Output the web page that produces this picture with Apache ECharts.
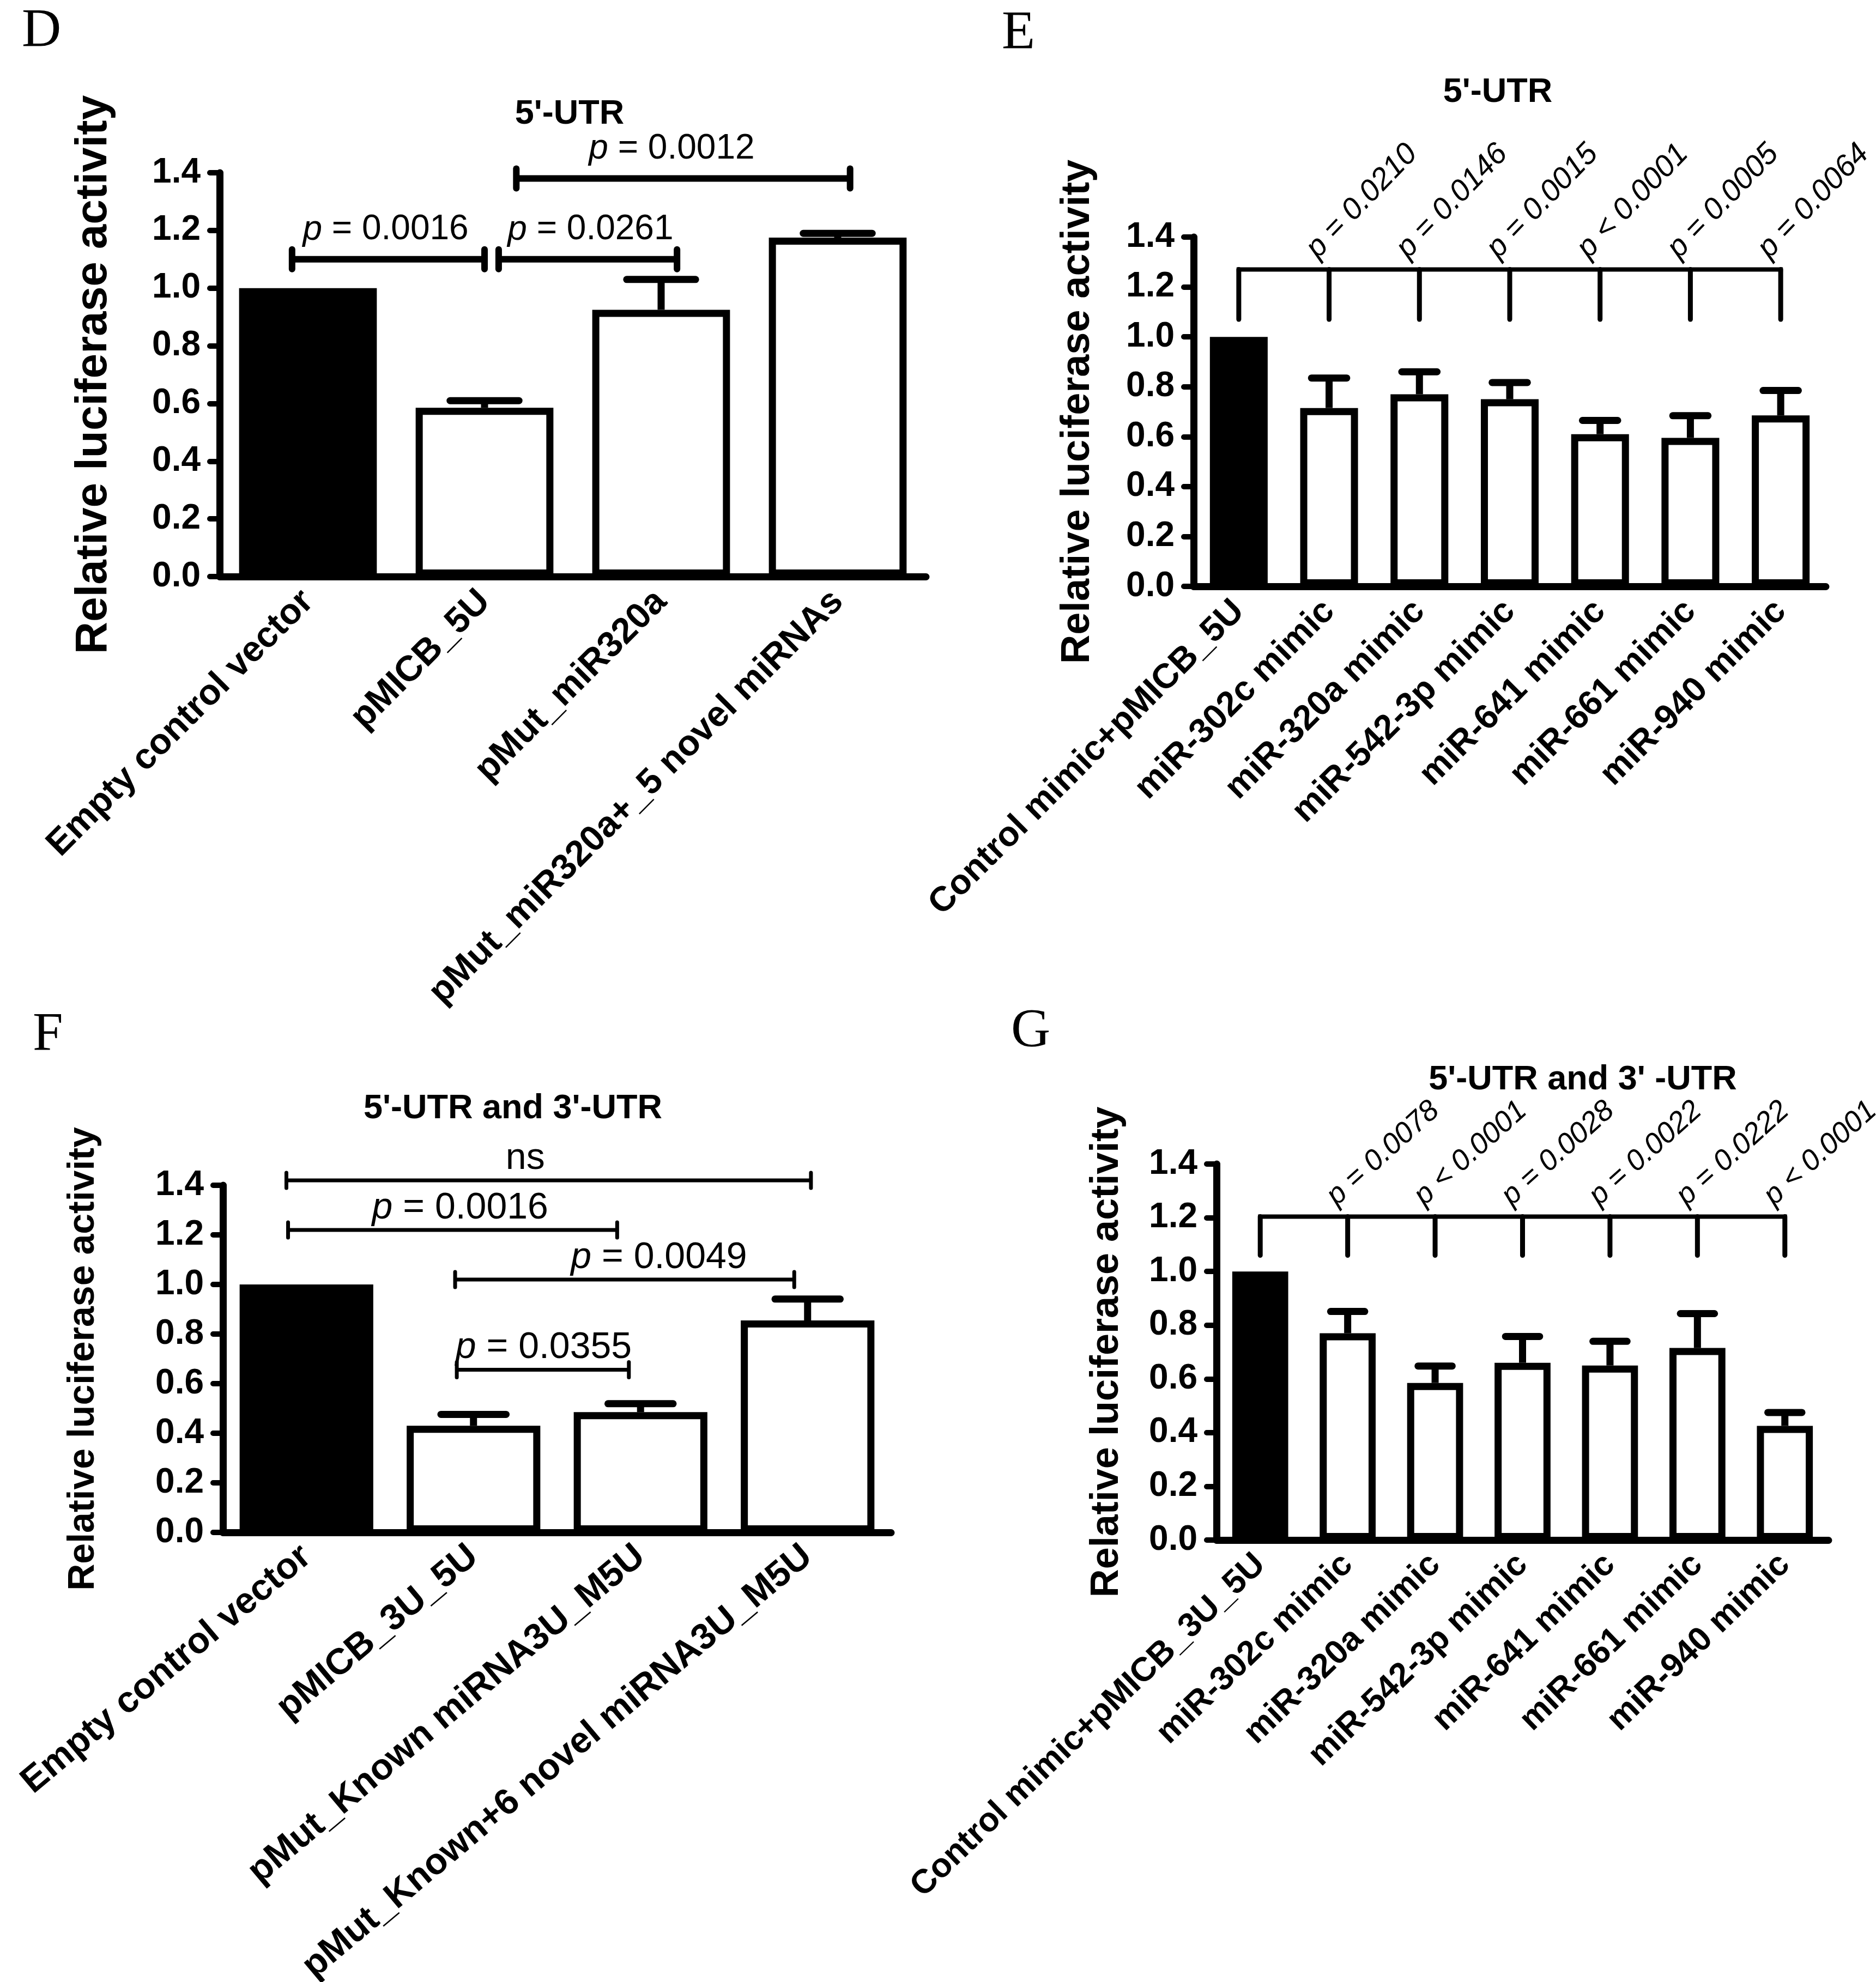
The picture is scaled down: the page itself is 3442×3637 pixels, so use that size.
<!DOCTYPE html>
<html><head><meta charset="utf-8">
<script src="https://cdn.jsdelivr.net/npm/echarts@6/dist/echarts.min.js"></script>
<style>html,body{margin:0;padding:0;background:#fff}#c{width:3442px;height:3637px}</style>
</head><body><div id="c"></div>
<script>
// ---------------- DATA ----------------
const yTickValues = [0, 0.2, 0.4, 0.6, 0.8, 1.0, 1.2, 1.4];
const yAxisTitle = 'Relative luciferase activity';

// Panel D
const catsD = ['Empty control vector', 'pMICB_5U', 'pMut_miR320a', 'pMut_miR320a+_5 novel miRNAs'];
const valsD = [1.0, 0.585, 0.925, 1.175];
const semD  = [0, 0.025, 0.105, 0.015];
// [from category position, to category position, y value, label centre position]
const bracketsD = [[-0.09, 1.0, 1.10, 0.44], [1.08, 2.09, 1.10, 1.60], [1.18, 3.07, 1.38, 2.06]];
const bracketLabelsD = ['0.0016', '0.0261', '0.0012'];

// Panel E
const catsE = ['Control mimic+pMICB_5U', 'miR-302c mimic', 'miR-320a mimic', 'miR-542-3p mimic', 'miR-641 mimic', 'miR-661 mimic', 'miR-940 mimic'];
const valsE = [1.0, 0.715, 0.77, 0.75, 0.61, 0.595, 0.685];
const semE  = [0, 0.12, 0.09, 0.067, 0.055, 0.089, 0.10];
const combE = [1.27, 1.07];
const pLabelsE = ['p = 0.0210', 'p = 0.0146', 'p = 0.0015', 'p < 0.0001', 'p = 0.0005', 'p = 0.0064'];

// Panel F
const catsF = ['Empty control vector', 'pMICB_3U_5U', 'pMut_Known miRNA3U_M5U', 'pMut_Known+6 novel miRNA3U_M5U'];
const valsF = [1.0, 0.43, 0.485, 0.855];
const semF  = [0, 0.046, 0.034, 0.086];
const bracketsF = [[-0.12, 3.02, 1.42, 1.31], [-0.11, 1.86, 1.22, 0.92], [0.89, 2.92, 1.02, 2.11], [0.90, 1.93, 0.656, 1.42]];
const bracketLabelsF = ['ns', '0.0016', '0.0049', '0.0355'];

// Panel G
const catsG = ['Control mimic+pMICB_3U_5U', 'miR-302c mimic', 'miR-320a mimic', 'miR-542-3p mimic', 'miR-641 mimic', 'miR-661 mimic', 'miR-940 mimic'];
const valsG = [1.0, 0.77, 0.585, 0.66, 0.65, 0.715, 0.425];
const semG  = [0, 0.081, 0.063, 0.098, 0.09, 0.128, 0.05];
const combG = [1.204, 1.06];
const pLabelsG = ['p = 0.0078', 'p < 0.0001', 'p = 0.0028', 'p = 0.0022', 'p = 0.0222', 'p < 0.0001'];

const panelTitles = {D: "5'-UTR", E: "5'-UTR", F: "5'-UTR and 3'-UTR", G: "5'-UTR and 3' -UTR"};

// ---------------- LAYOUT / STYLE ----------------
const SANS = '"Liberation Sans", Arial, sans-serif';
const SERIF = '"Liberation Serif", "Times New Roman", serif';
const layout = {
  D: {left: 403, top: 317, width: 1296, height: 741, nameGap: 190, nameFont: 82, xFont: 66, xRot: 45, barW: '78%', lw: 13, brLw: 12, brCap: 18, brFont: 64, brGap: 22, title: [1045, 178], letter: [40, 8]},
  E: {left: 2190, top: 435, width: 1160, height: 641, nameGap: 175, nameFont: 74, xFont: 64, xRot: 45, barW: '64%', lw: 13, combLw: 8, pRot: 46, pFont: 56, title: [2748, 138], letter: [1838, 12]},
  F: {left: 409, top: 2175, width: 1226, height: 637, nameGap: 222, nameFont: 68, xFont: 67, xRot: 40, barW: '80%', lw: 13, brLw: 7, brCap: 14, brFont: 68, brGap: 6, title: [941, 2003], letter: [60, 1850]},
  G: {left: 2232, top: 2136, width: 1123, height: 690, nameGap: 165, nameFont: 72, xFont: 62, xRot: 44, barW: '64%', lw: 13, combLw: 8, pRot: 42, pFont: 54, title: [2904, 1950], letter: [1855, 1843]}
};

const panels = {
  D: {cats: catsD, vals: valsD, sem: semD, brackets: bracketsD, brLabels: bracketLabelsD},
  E: {cats: catsE, vals: valsE, sem: semE, comb: combE, pLabels: pLabelsE},
  F: {cats: catsF, vals: valsF, sem: semF, brackets: bracketsF, brLabels: bracketLabelsF},
  G: {cats: catsG, vals: valsG, sem: semG, comb: combG, pLabels: pLabelsG}
};

const grids = [], xAxes = [], yAxes = [], series = [], graphics = [];
const keys = ['D', 'E', 'F', 'G'];

function posX(api, pos, y) {
  const c0 = api.coord([0, y]);
  const bw = api.size([1, 0])[0];
  return [c0[0] + pos * bw, c0[1]];
}

keys.forEach((k, gi) => {
  const L = layout[k], P = panels[k];
  grids.push({left: L.left, top: L.top, width: L.width, height: L.height, containLabel: false, outerBoundsMode: 'none'});
  xAxes.push({
    type: 'category', gridIndex: gi, data: P.cats, boundaryGap: true,
    axisLine: {lineStyle: {color: '#000', width: 13, cap: 'round'}},
    axisTick: {alignWithLabel: true, length: 18, lineStyle: {color: '#000', width: 9, cap: 'round'}},
    axisLabel: {interval: 0, rotate: L.xRot, margin: 36, color: '#000', fontFamily: SANS, fontWeight: 'bold', fontSize: L.xFont}
  });
  yAxes.push({
    type: 'value', gridIndex: gi, min: 0, max: 1.4, interval: 0.2,
    name: yAxisTitle, nameLocation: 'middle', nameGap: L.nameGap,
    nameTextStyle: {color: '#000', fontFamily: SANS, fontWeight: 'bold', fontSize: L.nameFont},
    splitLine: {show: false},
    axisLine: {show: true, lineStyle: {color: '#000', width: 13, cap: 'round'}},
    axisTick: {show: true, length: 18, lineStyle: {color: '#000', width: 10, cap: 'round'}},
    axisLabel: {color: '#000', fontFamily: SANS, fontWeight: 'bold', fontSize: 64, margin: 35,
      formatter: v => v.toFixed(1)}
  });
  series.push({
    type: 'bar', xAxisIndex: gi, yAxisIndex: gi, barWidth: L.barW, z: 2,
    data: P.vals.map((v, i) => ({value: v, itemStyle: i === 0
      ? {color: '#000', borderColor: '#000', borderWidth: L.lw}
      : {color: '#fff', borderColor: '#000', borderWidth: L.lw}})),
    animation: false
  });
  // error bars (upper only)
  series.push({
    type: 'custom', xAxisIndex: gi, yAxisIndex: gi, z: 3, animation: false,
    data: P.vals.map((v, i) => [i, v, P.sem[i]]),
    encode: {x: 0, y: 1},
    renderItem: (params, api) => {
      const i = api.value(0), v = api.value(1), e = api.value(2);
      if (!e) return null;
      const p0 = api.coord([i, v]), p1 = api.coord([i, v + e]);
      const half = api.size([1, 0])[0] * 0.39 / 2;
      return {type: 'group', children: [
        {type: 'line', shape: {x1: p0[0], y1: p0[1], x2: p1[0], y2: p1[1]}, style: {stroke: '#000', lineWidth: L.lw}},
        {type: 'line', shape: {x1: p1[0] - half, y1: p1[1], x2: p1[0] + half, y2: p1[1]}, style: {stroke: '#000', lineWidth: L.lw, lineCap: 'round'}}
      ]};
    }
  });
  if (P.brackets) {
    series.push({
      type: 'custom', xAxisIndex: gi, yAxisIndex: gi, z: 4, animation: false, clip: false,
      data: P.brackets.map(b => [0, b[2]]),
      encode: {x: 0, y: 1},
      renderItem: (params, api) => {
        const b = P.brackets[params.dataIndex];
        const a = posX(api, b[0], b[2]), c = posX(api, b[1], b[2]), m = posX(api, b[3], b[2]);
        const lab = P.brLabels[params.dataIndex];
        const txt = lab === 'ns' ? 'ns' : '{i|p} = ' + lab;
        return {type: 'group', children: [
          {type: 'line', shape: {x1: a[0], y1: a[1], x2: c[0], y2: c[1]}, style: {stroke: '#000', lineWidth: L.brLw}},
          {type: 'line', shape: {x1: a[0], y1: a[1] - L.brCap, x2: a[0], y2: a[1] + L.brCap}, style: {stroke: '#000', lineWidth: L.brLw, lineCap: 'round'}},
          {type: 'line', shape: {x1: c[0], y1: c[1] - L.brCap, x2: c[0], y2: c[1] + L.brCap}, style: {stroke: '#000', lineWidth: L.brLw, lineCap: 'round'}},
          {type: 'text', x: m[0], y: a[1] - L.brGap,
            style: {text: txt, fill: '#000', fontFamily: SANS, fontSize: L.brFont,
              align: 'center', verticalAlign: 'bottom', textAlign: 'center', textVerticalAlign: 'bottom',
              rich: {i: {fontStyle: 'italic', fontFamily: SANS, fontSize: L.brFont, fill: '#000'}}}}
        ]};
      }
    });
  }
  if (P.comb) {
    series.push({
      type: 'custom', xAxisIndex: gi, yAxisIndex: gi, z: 4, animation: false, clip: false,
      data: [[0, P.comb[0]]],
      encode: {x: 0, y: 1},
      renderItem: (params, api) => {
        const yTop = P.comb[0], yDrop = P.comb[1];
        const n = P.cats.length;
        const a = posX(api, 0, yTop), c = posX(api, n - 1, yTop);
        const ch = [{type: 'line', shape: {x1: a[0], y1: a[1], x2: c[0], y2: c[1]}, style: {stroke: '#000', lineWidth: L.combLw, lineCap: 'square'}}];
        for (let i = 0; i < n; i++) {
          const t = posX(api, i, yTop), d = posX(api, i, yDrop);
          ch.push({type: 'line', shape: {x1: t[0], y1: t[1], x2: d[0], y2: d[1]}, style: {stroke: '#000', lineWidth: L.combLw + 1, lineCap: 'round'}});
          if (i > 0) {
            ch.push({type: 'text', x: t[0] - 12, y: t[1] - 10, rotation: L.pRot * Math.PI / 180,
              style: {text: P.pLabels[i - 1], fill: '#000', fontFamily: SANS, fontStyle: 'italic', fontSize: L.pFont,
                align: 'left', verticalAlign: 'bottom', textAlign: 'left', textVerticalAlign: 'bottom'}});
          }
        }
        return {type: 'group', children: ch};
      }
    });
  }
  graphics.push({type: 'text', x: L.title[0], y: L.title[1], style: {text: panelTitles[k], fill: '#000', font: 'bold 63px ' + SANS, align: 'center', verticalAlign: 'top'}});
  graphics.push({type: 'text', x: L.letter[0], y: L.letter[1], style: {text: k, fill: '#000', font: '100px ' + SERIF, align: 'left', verticalAlign: 'top'}});
});

const chart = echarts.init(document.getElementById('c'), null, {renderer: 'canvas'});
chart.setOption({
  backgroundColor: '#fff',
  animation: false,
  grid: grids, xAxis: xAxes, yAxis: yAxes, series: series, graphic: graphics
});
</script></body></html>
